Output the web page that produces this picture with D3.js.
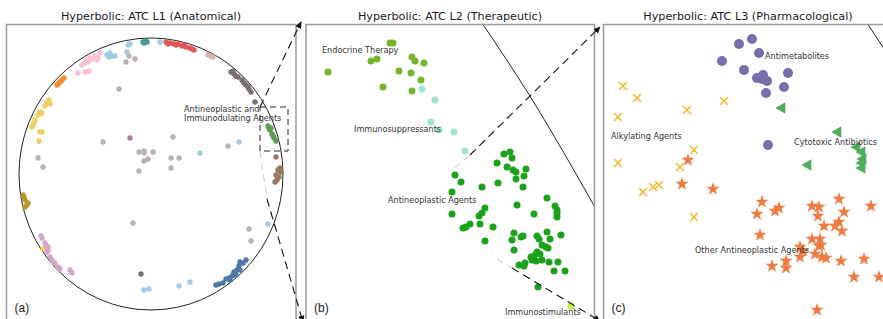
<!DOCTYPE html>
<html>
<head>
<meta charset="utf-8">
<script src="https://cdn.jsdelivr.net/npm/d3@7"></script>
<style>
  body { margin: 0; background: #fff; }
  svg { display: block; }
</style>
</head>
<body>
<svg id="canvas" width="883" height="319"></svg>
<script>
// ---- data: panel (a), embedding units, disk centred on 0 ----
const l1Teal = [[-8,132],[-5,133],[-4,132],[-7,131]];
const l1LightBlue = [[9,132],[-23,129],[-21,130],[-24,122],[-44,119],[-41,121],[-39,118],[-36,118],[-42,117],
  [49,21],[88,32],[117,-50],[-7,-116],[-2,-115],[28,-112],[39,-108]];
const l1LightGray = [[-22,118],[-25,112],[-16,115],[-32,85],[-113,16],[-108,7],[-48,32],[-12,22],[-7,23],[-7,21],
  [-7,13],[-3,15],[-12,3],[22,37],[2,22],[20,16],[28,16],[20,6],[77,28],[-18,-49],[98,-55],[100,-67]];
const l1Purple = [[-21,36]];
const l1Pink = [[-64,114],[-61,116],[-66,111],[-63,112],[-53,116],[-51,121],[-54,114],[-73,101],[-66,102],
  [-62,103],[-59,115],[-69,109],[-56,118]];
const l1Orange = [[-93,90],[-91,92],[-89,94],[-87,96],[-92,91],[-90,93],[-94,89]];
const l1Yellow = [[-104,72],[-102,74],[-101,70],[-106,68],[-111,62],[-113,59],[-109,61],[-111,60],[-118,49],
  [-116,54],[-119,47],[-117,51],[-109,42],[-111,42],[-112,33],[-108,-75]];
const l1Olive = [[-128,-21],[-126,-26],[-124,-31],[-123,-29],[-126,-33],[-127,-23]];
const l1Lilac = [[-109,-64],[-110,-62],[-106,-69],[-103,-73],[-104,-78],[-101,-83],[-96,-89],[-93,-93],[-91,-95],
  [-81,-96],[-79,-99],[-105,-71],[-99,-86],[-98,-88],[-103,-76]];
const l1Blue = [[65,-111],[68,-110],[72,-109],[75,-105],[78,-104],[81,-102],[83,-98],[86,-96],[88,-92],[89,-88],
  [92,-89],[95,-86],[85,-101],[79,-106],[89,-96],[82,-101]];
const l1Red = [[15,132],[19,131],[23,130],[27,130],[31,128],[35,127],[39,126],[43,124],[17,130],[25,129],[33,129],[41,125]];
const l1Tan = [[57,119],[60,118],[62,117]];
const l1Gray = [[80,102],[83,100],[87,97],[91,94],[95,89],[98,85],[100,82],[85,98],[93,91],[82,103],[97,87],[104,72],[-10,-100]];
const l1Green = [[117,48],[119,44],[121,40],[123,36],[125,33],[120,46],[122,38],[118,46]];
const l1Brown = [[125,17],[127,4],[130,2],[125,-1],[128,-3],[126,-6],[124,-8],[129,6]];
const l1ZoomBox = [[109,67],[137,23]];

// ---- data: panel (b) ----
const l2Endocrine = [[84,18],[87,18],[65,36],[71,34],[22,47],[106,32],[109,36],[118,38],[93,46],[105,48],[115,55],[77,62],[106,66]];
const l2Immunosuppressants = [[116,64],[129,75],[125,97],[133,105],[148,107],[159,126]];
const l2Antineoplastic = [[198,129],[204,127],[206,133],[191,138],[201,142],[207,145],[210,147],[220,144],[218,151],
  [210,154],[149,150],[155,157],[176,162],[192,158],[217,162],[146,167],[211,180],[241,173],[249,181],[251,185],
  [251,188],[251,192],[228,189],[179,183],[176,188],[173,191],[146,189],[164,199],[160,202],[157,203],[174,199],
  [187,202],[179,216],[208,208],[206,215],[215,212],[217,211],[231,211],[233,214],[241,207],[244,214],[255,210],
  [236,220],[240,222],[242,223],[208,225],[231,227],[234,229],[228,231],[225,232],[226,235],[230,236],[236,235],
  [243,237],[252,237],[219,238],[213,240],[218,241],[248,246],[259,246],[232,262]];
const l2Immunostimulants = [[265,281]];
const l2Boundary = [[176,-2],[222,68],[262,135],[290,184]];
const l2Labels = ["Endocrine Therapy", "Immunosuppressants", "Antineoplastic Agents", "Immunostimulants"];
const l2LabelAt = [[16,28],[48,107],[82,178],[199,290]];

// ---- data: panel (c) ----
const l3Antimetabolites = [[135,19],[148,14],[155,28],[118,36],[140,45],[153,53],[159,50],[158,54],[163,56],[184,48],
  [180,62],[162,68],[164,120]];
const l3Alkylating = [[19,61],[33,73],[14,92],[83,85],[120,76],[90,125],[14,138],[76,142],[39,167],[49,162],[55,160],[90,192]];
const l3Cytotoxic = [[178,83],[234,107],[253,122],[258,127],[259,134],[204,140],[258,138],[258,143]];
const l3Other = [[84,135],[78,159],[109,164],[158,177],[175,183],[171,186],[153,189],[208,181],[215,182],[235,174],
  [267,181],[240,187],[214,191],[220,201],[235,197],[231,201],[238,206],[156,210],[208,214],[216,214],[217,220],
  [215,221],[196,222],[199,226],[211,229],[218,232],[222,233],[196,232],[182,236],[182,243],[168,241],[237,236],
  [260,234],[250,252],[275,252],[213,285]];
const l3Boundary = [[263,-2],[292,42]];
const l3Labels = ["Antimetabolites", "Alkylating Agents", "Cytotoxic Antibiotics", "Other Antineoplastic Agents"];
const l3LabelAt = [[161,34],[7,114],[190,120],[91,228]];

const titles = ["Hyperbolic: ATC L1 (Anatomical)", "Hyperbolic: ATC L2 (Therapeutic)", "Hyperbolic: ATC L3 (Pharmacological)"];
const panelTags = ["(a)", "(b)", "(c)"];

// ---- layout ----
const svg = d3.select("#canvas");
const labelFont = "'Liberation Sans Narrow', 'DejaVu Sans Condensed', 'Liberation Sans', sans-serif";
const titleFont = "'DejaVu Sans', sans-serif";

const panels = [
    { x0: 6.5, x1: 296, title: 151 },
    { x0: 306, x1: 594.5, title: 450 },
    { x0: 603.5, x1: 910, title: 748 }
];
const boxTop = 24.5;

const xA = d3.scaleLinear().domain([-132, 132]).range([19, 283]);
const yA = d3.scaleLinear().domain([-136, 136]).range([310, 38]);
const xB = d3.scaleLinear().domain([0, 288]).range([306, 594]);
const yB = d3.scaleLinear().domain([0, 300]).range([25, 325]);
const xC = d3.scaleLinear().domain([0, 290]).range([604, 894]);
const yC = d3.scaleLinear().domain([0, 300]).range([25, 325]);

const defs = svg.append("defs");
defs.append("marker")
    .attr("id", "arrow")
    .attr("viewBox", "0 -5 10 10")
    .attr("refX", 9)
    .attr("refY", 0)
    .attr("markerWidth", 7)
    .attr("markerHeight", 7)
    .attr("markerUnits", "userSpaceOnUse")
    .attr("orient", "auto")
    .append("path")
    .attr("d", "M0,-4.5L10,0L0,4.5Z")
    .attr("fill", "#111");

panels.forEach((p, i) => {
    defs.append("clipPath").attr("id", "clip" + i)
        .append("rect")
        .attr("x", p.x0).attr("y", boxTop)
        .attr("width", p.x1 - p.x0).attr("height", 320);
});

// titles
panels.forEach((p, i) => {
    svg.append("text")
        .attr("x", p.title)
        .attr("y", 20)
        .attr("text-anchor", "middle")
        .attr("font-family", titleFont)
        .attr("font-size", "11.2px")
        .attr("fill", "#1a1a1a")
        .text(titles[i]);
});

function dots(g, data, xs, ys, r, color) {
    g.selectAll(null)
        .data(data)
        .enter()
        .append("circle")
        .attr("cx", d => xs(d[0]))
        .attr("cy", d => ys(d[1]))
        .attr("r", r)
        .attr("fill", color);
}

function labels(g, texts, at, xs, ys) {
    g.selectAll(null)
        .data(texts)
        .enter()
        .append("text")
        .attr("x", (d, i) => xs(at[i][0]))
        .attr("y", (d, i) => ys(at[i][1]))
        .attr("font-family", labelFont)
        .attr("font-size", "9px")
        .attr("fill", "#333")
        .text(d => d);
}

// ---- panel (a) ----
const gA = svg.append("g").attr("clip-path", "url(#clip0)");
gA.append("ellipse")
    .attr("cx", xA(0)).attr("cy", yA(0))
    .attr("rx", xA(132) - xA(0)).attr("ry", yA(-136) - yA(0))
    .attr("fill", "none")
    .attr("stroke", "#222")
    .attr("stroke-width", 1);

const l1Sets = [
    [l1LightGray, "#BAB0AC"], [l1LightBlue, "#A0CBE8"], [l1Teal, "#499894"], [l1Purple, "#B07AA1"],
    [l1Pink, "#FABFD2"], [l1Orange, "#F28E2B"], [l1Yellow, "#F1CE63"], [l1Olive, "#B6992D"],
    [l1Lilac, "#D4A6C8"], [l1Blue, "#4E79A7"], [l1Red, "#E15759"], [l1Tan, "#D7B5A6"],
    [l1Gray, "#79706E"], [l1Green, "#59A14F"], [l1Brown, "#9D7660"]
];
l1Sets.forEach(([data, color]) => dots(gA, data, xA, yA, 2.7, color));

gA.append("rect")
    .attr("x", xA(l1ZoomBox[0][0]))
    .attr("y", yA(l1ZoomBox[0][1]))
    .attr("width", xA(l1ZoomBox[1][0]) - xA(l1ZoomBox[0][0]))
    .attr("height", yA(l1ZoomBox[1][1]) - yA(l1ZoomBox[0][1]))
    .attr("fill", "none")
    .attr("stroke", "#222")
    .attr("stroke-width", 1)
    .attr("stroke-dasharray", "6,4");

gA.append("text")
    .attr("x", xA(33)).attr("y", yA(62))
    .attr("font-family", labelFont).attr("font-size", "9px").attr("fill", "#333")
    .text("Antineoplastic and");
gA.append("text")
    .attr("x", xA(33)).attr("y", yA(53))
    .attr("font-family", labelFont).attr("font-size", "9px").attr("fill", "#333")
    .text("Immunodulating Agents");

// ---- panel (b) ----
const gB = svg.append("g").attr("clip-path", "url(#clip1)");
gB.append("path")
    .datum(l2Boundary)
    .attr("d", d3.line().x(d => xB(d[0])).y(d => yB(d[1])).curve(d3.curveNatural))
    .attr("fill", "none")
    .attr("stroke", "#222")
    .attr("stroke-width", 1);
dots(gB, l2Endocrine, xB, yB, 3.5, "#74B72B");
dots(gB, l2Immunosuppressants, xB, yB, 3.5, "#9BE8C6");
dots(gB, l2Antineoplastic, xB, yB, 3.5, "#1AA31A");
dots(gB, l2Immunostimulants, xB, yB, 3.5, "#BDF23E");
labels(gB, l2Labels, l2LabelAt, xB, yB);

// ---- panel (c) ----
const gC = svg.append("g").attr("clip-path", "url(#clip2)");
gC.append("path")
    .datum(l3Boundary)
    .attr("d", d3.line().x(d => xC(d[0])).y(d => yC(d[1])))
    .attr("fill", "none")
    .attr("stroke", "#222")
    .attr("stroke-width", 1);
dots(gC, l3Antimetabolites, xC, yC, 5, "#7A6DAE");

gC.selectAll(null)
    .data(l3Alkylating)
    .enter()
    .append("path")
    .attr("transform", d => `translate(${xC(d[0])},${yC(d[1])}) rotate(45)`)
    .attr("d", "M-5.5,0H5.5M0,-5.5V5.5")
    .attr("fill", "none")
    .attr("stroke", "#F5B51E")
    .attr("stroke-width", 1.4);

gC.selectAll(null)
    .data(l3Cytotoxic)
    .enter()
    .append("path")
    .attr("transform", d => `translate(${xC(d[0])},${yC(d[1])}) rotate(-90)`)
    .attr("d", d3.symbol().type(d3.symbolTriangle).size(58)())
    .attr("fill", "#4FAE5B");

gC.selectAll(null)
    .data(l3Other)
    .enter()
    .append("path")
    .attr("transform", d => `translate(${xC(d[0])},${yC(d[1])})`)
    .attr("d", d3.symbol().type(d3.symbolStar).size(55)())
    .attr("fill", "#F07B40");

labels(gC, l3Labels, l3LabelAt, xC, yC);

// ---- frames ----
panels.forEach((p, i) => {
    svg.append("path")
        .attr("d", `M${p.x0},330V${boxTop}H${p.x1}V330`)
        .attr("fill", "none")
        .attr("stroke", "#9a9a9a")
        .attr("stroke-width", 1.5);
    svg.append("text")
        .attr("x", p.x0 + 8)
        .attr("y", 312)
        .attr("font-family", "'Liberation Sans', sans-serif")
        .attr("font-size", "12px")
        .attr("fill", "#222")
        .text(panelTags[i]);
});

// ---- zoom connectors ----
function connector(from, mid, to) {
    if (mid) {
        svg.append("line")
            .attr("x1", from[0]).attr("y1", from[1])
            .attr("x2", mid[0]).attr("y2", mid[1])
            .attr("stroke", "#c8c8c8")
            .attr("stroke-width", 1)
            .attr("stroke-dasharray", "7,5");
        from = mid;
    }
    svg.append("line")
        .attr("x1", from[0]).attr("y1", from[1])
        .attr("x2", to[0]).attr("y2", to[1])
        .attr("stroke", "#111")
        .attr("stroke-width", 1.1)
        .attr("stroke-dasharray", "8,5")
        .attr("marker-end", "url(#arrow)");
}

connector([xA(l1ZoomBox[0][0]), yA(l1ZoomBox[0][1])], null, [xB(0) - 5, yB(0) - 3]);
connector([xA(l1ZoomBox[0][0]), yA(l1ZoomBox[1][1])], [xA(116), yA(-25)], [xB(0) - 3, yB(297)]);
connector([xB(149), yB(143)], [xB(164), yB(130)], [xC(0) - 4, yC(2)]);
connector([xB(191), yB(234)], [xB(206), yB(243)], [xC(-4), yC(296)]);
</script>
</body>
</html>
